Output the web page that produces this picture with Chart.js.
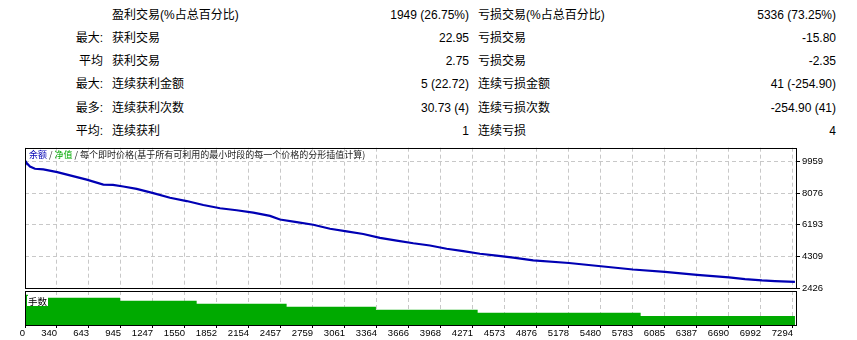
<!DOCTYPE html>
<html>
<head>
<meta charset="utf-8">
<title>测试报告</title>
<script src="https://cdn.jsdelivr.net/npm/chart.js@4.4.1/dist/chart.umd.min.js"></script>
<style>
  body { margin: 0; background: #fff; }
  #page { position: relative; width: 857px; height: 340px; overflow: hidden; font-family: 'Liberation Sans', 'Noto Sans CJK SC', sans-serif; font-size: 12px; color: #000; }
  .cell { position: absolute; height: 16px; line-height: 16px; white-space: nowrap; }
  .r { text-align: right; }
  canvas { position: absolute; left: 0; }
  #mainChart { top: 140px; }
  #lotChart { top: 289px; }
</style>
</head>
<body>
<div id="page">
  <canvas id="mainChart" width="857" height="160" style="width:857px;height:160px"></canvas>
  <canvas id="lotChart" width="857" height="51" style="width:857px;height:51px"></canvas>
</div>
<script>
// summary table
const rowPrefix = ['', '最大:', '平均', '最大:', '最多:', '平均:'];
const winLabels = ['盈利交易(%占总百分比)', '获利交易', '获利交易', '连续获利金额', '连续获利次数', '连续获利'];
const winValues = ['1949 (26.75%)', '22.95', '2.75', '5 (22.72)', '30.73 (4)', '1'];
const lossLabels = ['亏损交易(%占总百分比)', '亏损交易', '亏损交易', '连续亏损金额', '连续亏损次数', '连续亏损'];
const lossValues = ['5336 (73.25%)', '-15.80', '-2.35', '41 (-254.90)', '-254.90 (41)', '4'];

// chart data (trade number -> balance)
const totalTrades = 7285;
const balanceTrades = [0, 9, 47, 94, 173, 305, 425, 583, 740, 831, 929, 1055, 1212, 1370, 1528, 1685, 1843, 2000, 2157, 2315, 2409, 2567, 2724, 2882, 3039, 3196, 3354, 3512, 3669, 3826, 3984, 4141, 4299, 4456, 4614, 4802, 5140, 5442, 5744, 6047, 6349, 6652, 6803, 6963, 7086, 7275];
const balanceValues = [10000, 9918, 9665, 9529, 9488, 9329, 9135, 8882, 8588, 8564, 8470, 8329, 8076, 7799, 7605, 7370, 7175, 7058, 6916, 6722, 6505, 6351, 6193, 5957, 5798, 5645, 5410, 5251, 5092, 4957, 4762, 4621, 4468, 4350, 4233, 4074, 3915, 3721, 3527, 3386, 3209, 3056, 2956, 2879, 2838, 2785];
const lotTrades = [0, 28, 898, 1622, 2472, 3316, 4277, 5817, 7275];
const lotValues = [0.10, 0.09, 0.08, 0.07, 0.06, 0.05, 0.04, 0.03, 0.03];

const xTickLabels = ['0', '340', '643', '945', '1247', '1550', '1852', '2154', '2457', '2759', '3061', '3364', '3666', '3968', '4271', '4573', '4876', '5178', '5480', '5783', '6085', '6387', '6690', '6992', '7294'];
const xStep = 302.35;
const yTickValues = [9959, 8076, 6193, 4309, 2426];

const titleParts = [['余额', '#0000b4'], [' / ', '#303030'], ['净值', '#00a800'], [' / 每个即时价格(基于所有可利用的最小时段的每一个价格的分形插值计算)', '#202020']];

const page = document.getElementById('page');
function addCell(text, left, top, width, right) {
  const d = document.createElement('div');
  d.className = 'cell' + (right ? ' r' : '');
  d.textContent = text;
  d.style.left = left + 'px';
  d.style.top = top + 'px';
  if (width) d.style.width = width + 'px';
  page.appendChild(d);
}
for (let i = 0; i < rowPrefix.length; i++) {
  const top = Math.round(15 + i * 23.15 - 8);
  addCell(rowPrefix[i], 0, top, 103, true);
  addCell(winLabels[i], 112, top);
  addCell(winValues[i], 300, top, 169, true);
  addCell(lossLabels[i], 478, top);
  addCell(lossValues[i], 600, top, 236, true);
}

const gridColor = '#c8c8c8';
const axisFont = { family: "'Liberation Sans', sans-serif", size: 9.5 };

const frame = {
  id: 'frame',
  afterDraw(chart) {
    const { ctx, chartArea: a } = chart;
    ctx.save();
    ctx.strokeStyle = '#000';
    ctx.lineWidth = 1;
    ctx.strokeRect(Math.round(a.left) + 0.5, Math.round(a.top) + 0.5, Math.round(a.right - a.left), Math.round(a.bottom - a.top));
    ctx.restore();
  }
};

const chartTitle = {
  id: 'chartTitle',
  afterDraw(chart) {
    const ctx = chart.ctx;
    ctx.save();
    ctx.font = "9px 'Noto Sans CJK SC'";
    ctx.textBaseline = 'middle';
    let x = 29;
    titleParts.forEach(p => {
      ctx.fillStyle = p[1];
      ctx.fillText(p[0], x, 15);
      x += ctx.measureText(p[0]).width;
    });
    ctx.restore();
  }
};

const lotLabel = {
  id: 'lotLabel',
  afterDraw(chart) {
    const ctx = chart.ctx;
    ctx.save();
    ctx.fillStyle = '#fff';
    ctx.fillRect(27, 7, 21, 10);
    ctx.fillStyle = '#000';
    ctx.font = "9.5px 'Noto Sans CJK SC'";
    ctx.textBaseline = 'middle';
    ctx.fillText('手数', 28, 12);
    ctx.restore();
  }
};

const xTicks = s => { s.ticks = xTickLabels.map((l, i) => ({ value: i * xStep })); };

new Chart('mainChart', {
  type: 'line',
  data: {
    datasets: [{
      data: balanceTrades.map((t, i) => ({ x: t, y: balanceValues[i] })),
      borderColor: '#0000b4',
      borderWidth: 2.2,
      pointRadius: 0,
      tension: 0,
      fill: false
    }]
  },
  options: {
    responsive: false,
    animation: false,
    events: [],
    layout: { padding: { left: 25, top: 6, right: 0, bottom: 12 } },
    plugins: { legend: { display: false }, tooltip: { enabled: false } },
    scales: {
      x: {
        type: 'linear', min: 0, max: totalTrades,
        afterBuildTicks: xTicks,
        ticks: { display: false },
        grid: { color: gridColor, drawTicks: false },
        border: { display: false, dash: [4, 3] },
        afterFit: s => { s.height = 0; }
      },
      y: {
        position: 'right', min: 2426, max: 10783,
        afterBuildTicks: s => { s.ticks = yTickValues.map(v => ({ value: v })); },
        ticks: { color: '#000', font: axisFont, padding: 2, callback: v => String(v) },
        grid: { color: gridColor, tickColor: '#000', tickLength: 4, tickBorderDash: [] },
        border: { display: false, dash: [4, 3] },
        afterFit: s => { s.width = 61; }
      }
    }
  },
  plugins: [frame, chartTitle]
});

new Chart('lotChart', {
  type: 'line',
  data: {
    datasets: [{
      data: lotTrades.map((t, i) => ({ x: t, y: lotValues[i] })),
      stepped: true,
      fill: 'origin',
      backgroundColor: '#00aa00',
      borderColor: '#00aa00',
      borderWidth: 0,
      pointRadius: 0
    }]
  },
  options: {
    responsive: false,
    animation: false,
    events: [],
    layout: { padding: { left: 25, right: 61, top: 2, bottom: 0 } },
    plugins: { legend: { display: false }, tooltip: { enabled: false } },
    scales: {
      x: {
        type: 'linear', min: 0, max: totalTrades,
        afterBuildTicks: xTicks,
        ticks: { color: '#000', font: axisFont, align: 'end', padding: 0, maxRotation: 0, autoSkip: false, callback: (v, i) => xTickLabels[i] },
        grid: { color: gridColor, tickColor: '#000', tickLength: 3, tickBorderDash: [] },
        border: { display: false, dash: [4, 3] },
        afterFit: s => { s.height = 15; }
      },
      y: { display: false, min: 0, max: 0.112 }
    }
  },
  plugins: [frame, lotLabel]
});
</script>
</body>
</html>
